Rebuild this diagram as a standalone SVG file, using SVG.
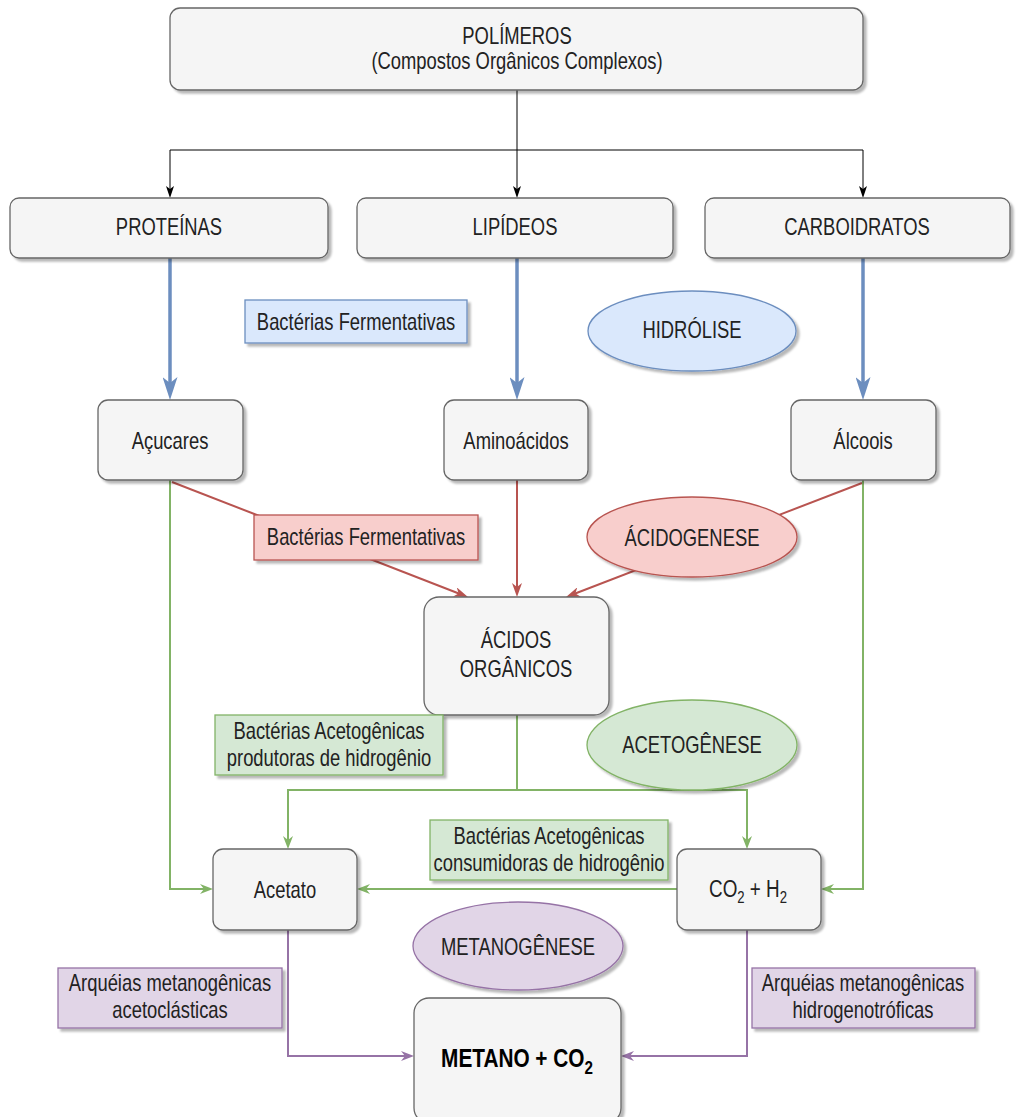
<svg xmlns="http://www.w3.org/2000/svg" width="1019" height="1117" viewBox="0 0 1019 1117">
<style>
.t{font-family:"Liberation Sans",Arial,sans-serif;font-size:23px;fill:#222;text-anchor:middle}
.b{font-weight:bold;fill:#000;font-size:26px}
.s{font-size:16px}
.sb{font-size:19px}
.g{fill:#f5f5f5;stroke:#666;stroke-width:1.3}
.bl{fill:#dae8fc;stroke:#6c8ebf;stroke-width:1.3}
.rd{fill:#f8cecc;stroke:#b85450;stroke-width:1.3}
.gr{fill:#d5e8d4;stroke:#82b366;stroke-width:1.3}
.pu{fill:#e1d5e7;stroke:#9673a6;stroke-width:1.3}
.c{fill:none}
.ck{stroke:#000;stroke-width:1}
.cb{stroke:#6c8ebf;stroke-width:3.5}
.cr{stroke:#b85450;stroke-width:2}
.cg{stroke:#82b366;stroke-width:2}
.cp{stroke:#9673a6;stroke-width:2}
</style>
<defs>
<filter id="sh" x="-10%" y="-10%" width="130%" height="130%">
<feDropShadow dx="3" dy="3" stdDeviation="1.2" flood-color="#000" flood-opacity="0.28"/>
</filter>
<marker id="mk" markerUnits="userSpaceOnUse" viewBox="0 0 12 8" markerWidth="12" markerHeight="8" refX="9" refY="4" orient="auto"><path d="M0,0 L12,4 L0,8 L3,4 z" fill="#000"/></marker>
<marker id="mb" markerUnits="userSpaceOnUse" viewBox="0 0 23 15" markerWidth="23" markerHeight="15" refX="15" refY="7.5" orient="auto"><path d="M0,0 L23,7.5 L0,15 L6,7.5 z" fill="#6c8ebf"/></marker>
<marker id="mr" markerUnits="userSpaceOnUse" viewBox="0 0 14 10" markerWidth="14" markerHeight="10" refX="9" refY="5" orient="auto"><path d="M0,0 L14,5 L0,10 L4,5 z" fill="#b85450"/></marker>
<marker id="mg" markerUnits="userSpaceOnUse" viewBox="0 0 13 10" markerWidth="13" markerHeight="10" refX="8" refY="5" orient="auto"><path d="M0,0 L13,5 L0,10 L4,5 z" fill="#82b366"/></marker>
<marker id="mp" markerUnits="userSpaceOnUse" viewBox="0 0 13 10" markerWidth="13" markerHeight="10" refX="8" refY="5" orient="auto"><path d="M0,0 L13,5 L0,10 L4,5 z" fill="#9673a6"/></marker>
</defs>
<rect width="1019" height="1117" fill="#fff"/>

<g id="connectors" class="c">
<path class="ck" d="M517,90 V195" marker-end="url(#mk)"/>
<path class="ck" d="M517,150 H170 V195" marker-end="url(#mk)"/>
<path class="ck" d="M517,150 H863 V195" marker-end="url(#mk)"/>
<path class="cb" d="M170,258 V392" marker-end="url(#mb)"/>
<path class="cb" d="M517,258 V392" marker-end="url(#mb)"/>
<path class="cb" d="M863,258 V392" marker-end="url(#mb)"/>
<path class="cr" d="M172,482 L463.3,595.2" marker-end="url(#mr)"/>
<path class="cr" d="M517,480 V592" marker-end="url(#mr)"/>
<path class="cr" d="M862,483 L570.7,595.2" marker-end="url(#mr)"/>
<path class="cg" d="M170,480 V889 H208" marker-end="url(#mg)"/>
<path class="cg" d="M517,715 V790 H288 V844" marker-end="url(#mg)"/>
<path class="cg" d="M517,790 H747 V844" marker-end="url(#mg)"/>
<path class="cg" d="M863,480 V889 H826" marker-end="url(#mg)"/>
<path class="cg" d="M677,889 H362" marker-end="url(#mg)"/>
<path class="cp" d="M288,930 V1056 H409" marker-end="url(#mp)"/>
<path class="cp" d="M747,930 V1056 H626" marker-end="url(#mp)"/>
</g>

<g id="polimeros"><rect class="g" filter="url(#sh)" x="170" y="8" width="693" height="82" rx="10"/>
<text class="t" transform="translate(517,44) scale(0.8,1)"><tspan x="0">POLÍMEROS</tspan><tspan x="0" dy="25">(Compostos Orgânicos Complexos)</tspan></text></g>

<g id="proteinas"><rect class="g" filter="url(#sh)" x="10" y="198" width="318" height="60" rx="9"/>
<text class="t" transform="translate(169,235) scale(0.8,1)">PROTEÍNAS</text></g>
<g id="lipideos"><rect class="g" filter="url(#sh)" x="357" y="198" width="316" height="60" rx="9"/>
<text class="t" transform="translate(515,235) scale(0.8,1)">LIPÍDEOS</text></g>
<g id="carboidratos"><rect class="g" filter="url(#sh)" x="705" y="198" width="305" height="60" rx="9"/>
<text class="t" transform="translate(857,235) scale(0.8,1)">CARBOIDRATOS</text></g>

<g id="bf-hidrolise"><rect class="bl" filter="url(#sh)" x="245" y="300" width="222" height="43"/>
<text class="t" transform="translate(356,330) scale(0.8,1)">Bactérias Fermentativas</text></g>
<g id="hidrolise"><ellipse class="bl" filter="url(#sh)" cx="692" cy="331" rx="104" ry="40"/>
<text class="t" transform="translate(692,338) scale(0.8,1)">HIDRÓLISE</text></g>

<g id="acucares"><rect class="g" filter="url(#sh)" x="98" y="400" width="145" height="80" rx="10"/>
<text class="t" transform="translate(170,449) scale(0.8,1)">Açucares</text></g>
<g id="aminoacidos"><rect class="g" filter="url(#sh)" x="444" y="400" width="144" height="80" rx="10"/>
<text class="t" transform="translate(516,449) scale(0.8,1)">Aminoácidos</text></g>
<g id="alcoois"><rect class="g" filter="url(#sh)" x="791" y="400" width="145" height="80" rx="10"/>
<text class="t" transform="translate(863,449) scale(0.8,1)">Álcoois</text></g>

<g id="bf-acidogenese"><rect class="rd" filter="url(#sh)" x="254" y="515" width="224" height="45"/>
<text class="t" transform="translate(366,545) scale(0.8,1)">Bactérias Fermentativas</text></g>
<g id="acidogenese"><ellipse class="rd" filter="url(#sh)" cx="692" cy="537" rx="105" ry="40"/>
<text class="t" transform="translate(692,546) scale(0.8,1)">ÁCIDOGENESE</text></g>

<g id="acidos"><rect class="g" filter="url(#sh)" x="424" y="597" width="185" height="118" rx="15"/>
<text class="t" transform="translate(516,648) scale(0.8,1)"><tspan x="0">ÁCIDOS</tspan><tspan x="0" dy="29">ORGÂNICOS</tspan></text></g>

<g id="ba-produtoras"><rect class="gr" filter="url(#sh)" x="215" y="715" width="228" height="60"/>
<text class="t" transform="translate(329,739) scale(0.8,1)"><tspan x="0">Bactérias Acetogênicas</tspan><tspan x="0" dy="27">produtoras de hidrogênio</tspan></text></g>
<g id="acetogenese"><ellipse class="gr" filter="url(#sh)" cx="692" cy="745" rx="105" ry="45"/>
<text class="t" transform="translate(692,753) scale(0.8,1)">ACETOGÊNESE</text></g>

<g id="ba-consumidoras"><rect class="gr" filter="url(#sh)" x="430" y="820" width="238" height="60"/>
<text class="t" transform="translate(549,844) scale(0.8,1)"><tspan x="0">Bactérias Acetogênicas</tspan><tspan x="0" dy="27">consumidoras de hidrogênio</tspan></text></g>

<g id="acetato"><rect class="g" filter="url(#sh)" x="213" y="849" width="144" height="81" rx="10"/>
<text class="t" transform="translate(285,898) scale(0.8,1)">Acetato</text></g>
<g id="co2h2"><rect class="g" filter="url(#sh)" x="677" y="849" width="144" height="81" rx="10"/>
<text class="t" transform="translate(748,897) scale(0.82,1)">CO<tspan class="s" dy="6">2</tspan><tspan dy="-6"> + H</tspan><tspan class="s" dy="6">2</tspan></text></g>

<g id="metanogenese"><ellipse class="pu" filter="url(#sh)" cx="518" cy="946" rx="105" ry="44"/>
<text class="t" transform="translate(518,955) scale(0.8,1)">METANOGÊNESE</text></g>

<g id="arqueias-aceto"><rect class="pu" filter="url(#sh)" x="58" y="968" width="224" height="60"/>
<text class="t" transform="translate(170,991) scale(0.8,1)"><tspan x="0">Arquéias metanogênicas</tspan><tspan x="0" dy="27">acetoclásticas</tspan></text></g>
<g id="arqueias-hidro"><rect class="pu" filter="url(#sh)" x="752" y="968" width="223" height="60"/>
<text class="t" transform="translate(863,991) scale(0.8,1)"><tspan x="0">Arquéias metanogênicas</tspan><tspan x="0" dy="27">hidrogenotróficas</tspan></text></g>

<g id="metano"><rect class="g" filter="url(#sh)" x="414" y="998" width="207" height="125" rx="15"/>
<text class="t b" transform="translate(517,1067) scale(0.8,1)">METANO + CO<tspan class="sb" dy="7">2</tspan></text></g>
</svg>
